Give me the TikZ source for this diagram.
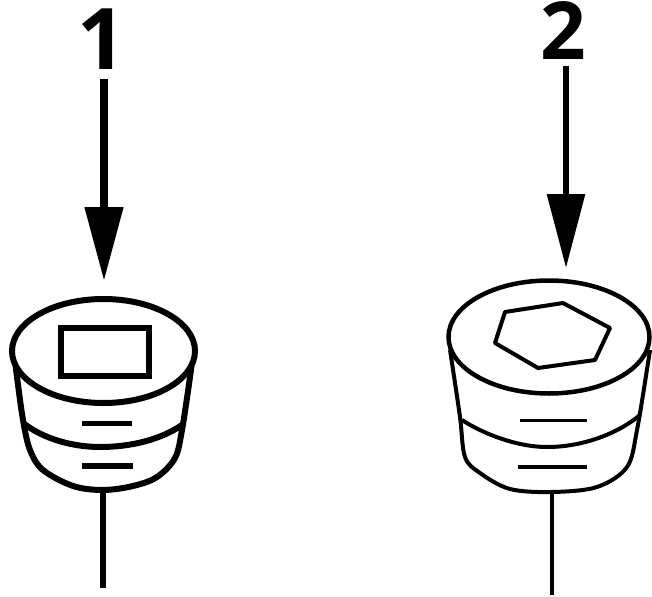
\documentclass[tikz,border=0pt]{standalone}
\usepackage{fontspec}
\setmainfont{Open Sans}
\usetikzlibrary{arrows.meta, shapes.geometric}
\tikzstyle{pusharrow} = [line width=8pt,-{Triangle[length=74pt,width=37pt]}]
\tikzstyle{digit} = [font=\bfseries, inner sep=0pt, anchor=base]
\tikzstyle{plugcap} = [ellipse, draw, line width=6pt, inner sep=0pt, fill=white]
\tikzstyle{outline} = [line width=6pt, line join=round]
\tikzstyle{thinline} = [line width=4pt, line join=round]

\begin{document}
\begin{tikzpicture}[x=1pt,y=-1pt]
\useasboundingbox (0,0) rectangle (652,596);

% left plug
\coordinate (b1) at (103,490);
\coordinate (s1) at (103,588);
\draw [outline] plot [smooth, tension=.55] coordinates {(15,360) (17,377) (23,420) (30,450) (43,470) (73,486) (b1) (133,486) (157,477) (175,458) (182,430) (190,377) (192,360)};
\draw [outline] (23,423) .. controls (45,440) and (75,447) .. (100,447) .. controls (130,447) and (160,440) .. (182,425);
\node [plugcap, minimum width=183pt, minimum height=104pt] (c1) at (103.5,351) {};
\node [rectangle, draw, line width=6pt, minimum width=88pt, minimum height=48pt, inner sep=0pt] (h1) at (105,351.5) {};
\coordinate (d1a) at (82,423);
\coordinate (d1b) at (132,423);
\coordinate (d1c) at (82,466);
\coordinate (d1d) at (133,466);
\draw [line width=5pt] (d1a) to (d1b);
\draw [line width=6pt] (d1c) to (d1d);
\draw [line width=6pt] (b1) to (s1);

% right plug
\coordinate (b2) at (552,492);
\coordinate (s2) at (552,595);
\draw [thinline] plot [smooth, tension=.55] coordinates {(450,350) (452,363) (460,417) (465,457) (480,473) (510,489) (b2) (597,487) (627,467) (637,430) (648,363) (650,350)};
\draw [thinline] (462,420) .. controls (480,432) and (515,447) .. (547,447) .. controls (585,447) and (620,432) .. (640,415);
\node [plugcap, line width=4.5pt, minimum width=201pt, minimum height=113pt] (c2) at (549,337) {};
\coordinate (p1) at (505,312);
\coordinate (p2) at (563,303);
\coordinate (p3) at (610,328);
\coordinate (p4) at (595,360);
\coordinate (p5) at (538,368);
\coordinate (p6) at (495,343);
\draw [thinline] (p1) -- (p2) -- (p3) -- (p4) -- (p5) -- (p6) -- cycle;
\coordinate (d2a) at (520,420);
\coordinate (d2b) at (587,420);
\coordinate (d2c) at (518,467);
\coordinate (d2d) at (587,467);
\draw [line width=3pt] (d2a) to (d2b);
\draw [line width=4pt] (d2c) to (d2d);
\draw [line width=4pt] (b2) to (s2);

% numbers and arrows
\node [digit, font=\fontsize{85}{85}\selectfont\bfseries] (n1) at (102,70) {1};
\node [digit, font=\fontsize{80}{80}\selectfont\bfseries] (n2) at (563,60) {2};
\coordinate (a1) at (104,79);
\coordinate (t1) at (104,281);
\coordinate (a2) at (566,66);
\coordinate (t2) at (566,268);
\draw [pusharrow] (a1) to (t1);
\draw [pusharrow, line width=6pt] (a2) to (t2);
\end{tikzpicture}
\end{document}
